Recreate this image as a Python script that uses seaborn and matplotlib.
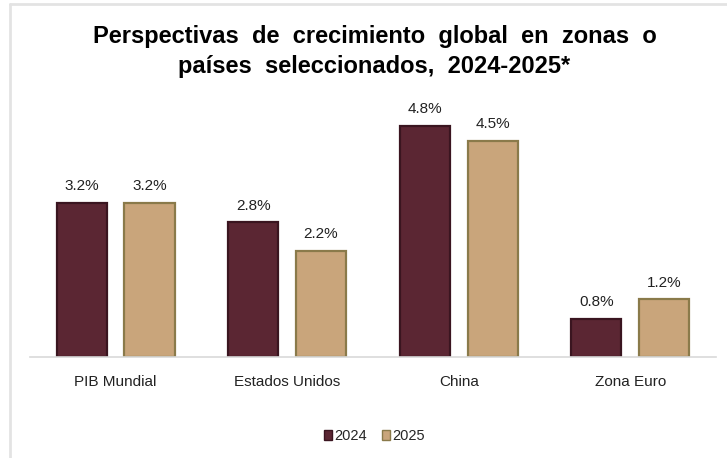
import matplotlib
matplotlib.use("Agg")
import matplotlib.pyplot as plt
import seaborn as sns
import pandas as pd
from matplotlib.lines import Line2D

# data
regions = ["PIB Mundial", "Estados Unidos", "China", "Zona Euro"]
growth_2024 = [3.2, 2.8, 4.8, 0.8]
growth_2025 = [3.2, 2.2, 4.5, 1.2]
years = ["2024", "2025"]

df = pd.DataFrame({
    "region": regions * 2,
    "year": [years[0]] * len(regions) + [years[1]] * len(regions),
    "value": growth_2024 + growth_2025,
})

colors = {"2024": "#5b2633", "2025": "#c9a57b"}
edges = {"2024": "#3a1520", "2025": "#8a7a4a"}

sns.set_theme(style="white")
plt.rcParams["font.family"] = ["Liberation Sans", "DejaVu Sans"]

fig = plt.figure(figsize=(7.27, 4.58), dpi=100)
ax = fig.add_axes([0.041, 0.2205, 0.944, 0.525])

sns.barplot(data=df, x="region", y="value", hue="year", order=regions,
            hue_order=years, palette=colors, width=0.79, gap=0.26,
            saturation=1, legend=False, ax=ax)

for cont, yr in zip(ax.containers, years):
    for bar in cont:
        bar.set_edgecolor(edges[yr])
        bar.set_linewidth(1.6)
    ax.bar_label(cont, labels=[f"{v:.1f}%" for v in cont.datavalues],
                 padding=7, fontsize=11, color="#222222")

ax.set_xlim(-0.5, 3.5)
ax.set_ylim(0, 5)
ax.set_xlabel("")
ax.set_ylabel("")
ax.set_yticks([])
ax.tick_params(axis="x", length=0, pad=13, labelsize=11, labelcolor="#222222")
for s in ["top", "right", "left"]:
    ax.spines[s].set_visible(False)
ax.spines["bottom"].set_color("#d9d9d9")
ax.spines["bottom"].set_linewidth(1.2)

# the original title uses wide word spacing
fig.suptitle("Perspectivas  de  crecimiento  global  en  zonas  o\npaíses  seleccionados,  2024-2025*",
             x=0.515, y=0.945, fontsize=17, fontweight="bold", linespacing=1.38,
             color="black")

handles = [plt.Rectangle((0, 0), 1, 1, facecolor=colors[y], edgecolor=edges[y]) for y in years]
fig.legend(handles, years, loc="center", bbox_to_anchor=(0.515, 0.048), ncol=2,
           frameon=False, fontsize=10.5, handlelength=0.6, handleheight=0.6,
           handletextpad=0.15, columnspacing=1.0)

# light frame of the original picture
fig.add_artist(Line2D([0.014, 1.0], [0.992, 0.992], color="#e3e3e3", lw=2))
fig.add_artist(Line2D([0.014, 0.014], [0.0, 0.992], color="#e3e3e3", lw=2))

fig.savefig("out.png", dpi=100, facecolor="white")
